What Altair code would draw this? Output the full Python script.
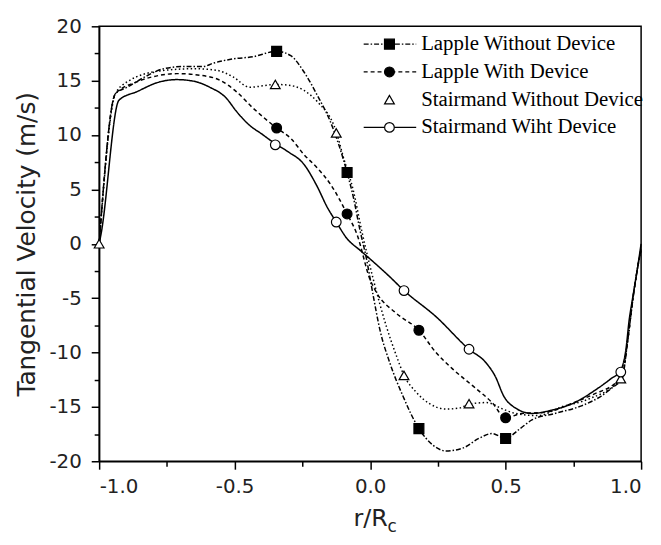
import altair as alt
import pandas as pd

SERIES = ["Lapple Without Device", "Lapple With Device",
          "Stairmand Without Device", "Stairmand Wiht Device"]

# ---- curves (r/Rc, tangential velocity m/s) ----
lw_r = [-1.0, -0.94, -0.896, -0.835, -0.762, -0.689, -0.616, -0.58, -0.506, -0.433,
        -0.345, -0.293, -0.244, -0.196, -0.147, -0.085, -0.062, -0.037, -0.015, 0.012,
        0.036, 0.072, 0.121, 0.18, 0.231, 0.28, 0.341, 0.401, 0.45, 0.5,
        0.548, 0.597, 0.682, 0.78, 0.853, 0.895, 0.93, 0.95, 0.97, 0.985, 1.0]
lw_v = [0.0, 13.8, 14.4, 15.3, 16.1, 16.3, 16.3, 16.6, 17.0, 17.2,
        17.7, 17.3, 15.8, 13.7, 11.25, 6.55, 4.3, 1.2, -1.2, -4.85,
        -7.9, -10.9, -14.0, -17.0, -18.5, -19.05, -18.8, -17.9, -17.45, -17.9,
        -17.1, -16.2, -15.6, -14.9, -14.0, -13.2, -12.4, -9.0, -5.0, -2.5, -0.5]

ld_r = [-1.0, -0.94, -0.86, -0.775, -0.714, -0.628, -0.555, -0.494, -0.433, -0.345,
        -0.293, -0.244, -0.196, -0.147, -0.085, -0.049, 0.0, 0.024, 0.097, 0.18,
        0.243, 0.304, 0.39, 0.45, 0.5, 0.56, 0.645, 0.743, 0.828, 0.901,
        0.93, 0.95, 0.97, 0.985, 1.0]
ld_v = [0.0, 13.8, 14.9, 15.5, 15.65, 15.5, 15.05, 14.0, 12.5, 10.65,
        9.7, 8.2, 7.0, 5.5, 2.75, 0.9, -3.3, -4.5, -6.4, -7.95,
        -10.0, -11.5, -13.3, -14.6, -16.0, -15.6, -15.5, -14.7, -13.8, -12.9,
        -12.2, -9.0, -5.0, -2.5, -0.5]

sw_r = [-1.0, -0.94, -0.896, -0.775, -0.653, -0.567, -0.506, -0.445, -0.35, -0.305,
        -0.244, -0.196, -0.125, -0.098, -0.062, -0.031, 0.012, 0.06, 0.097, 0.125,
        0.17, 0.219, 0.28, 0.33, 0.365, 0.43, 0.49, 0.536, 0.621, 0.706,
        0.804, 0.925, 0.95, 0.97, 0.985, 1.0]
sw_v = [0.0, 13.8, 14.9, 15.9, 16.1, 15.96, 15.35, 14.4, 14.65, 14.6,
        14.1, 13.1, 10.3, 7.9, 4.9, 1.2, -3.3, -7.6, -10.3, -12.1,
        -13.65, -14.7, -15.2, -15.1, -14.75, -14.6, -15.2, -15.6, -15.8, -15.0,
        -14.3, -12.4, -9.0, -5.0, -2.5, -0.5]

sd_r = [-1.0, -0.993, -0.927, -0.86, -0.775, -0.714, -0.653, -0.592, -0.531, -0.494,
        -0.445, -0.40, -0.35, -0.305, -0.244, -0.196, -0.159, -0.125, -0.086, -0.037,
        0.0, 0.071, 0.125, 0.243, 0.365, 0.426, 0.462, 0.493, 0.536, 0.597,
        0.67, 0.755, 0.828, 0.889, 0.923, 0.944, 0.956, 0.968, 0.985, 1.0]
sd_v = [0.0, 0.9, 13.2, 14.0, 14.9, 15.1, 14.96, 14.4, 13.4, 12.2,
        10.9, 10.1, 9.2, 8.5, 7.3, 5.3, 3.4, 2.0, 0.5, -0.6,
        -1.4, -3.0, -4.3, -6.7, -9.7, -10.9, -12.2, -14.0, -15.1, -15.6,
        -15.3, -14.6, -13.5, -12.4, -11.7, -9.7, -7.0, -5.1, -2.5, 0.0]

# ---- marker positions ----
lapple_mr = [-0.345, -0.085, 0.18, 0.5]
lw_mv = [17.7, 6.55, -17.0, -17.9]
ld_mv = [10.65, 2.75, -7.95, -16.0]
sw_mr = [-1.0, -0.35, -0.125, 0.125, 0.365, 0.925]
sw_mv = [0.0, 14.65, 10.2, -12.1, -14.7, -12.4]
sd_mr = [-0.35, -0.125, 0.125, 0.365, 0.925]
sd_mv = [9.1, 2.0, -4.3, -9.7, -11.8]

X_MAJOR = [-1.0, -0.5, 0.0, 0.5, 1.0]
X_MINOR = [-0.75, -0.25, 0.25, 0.75]
Y_MAJOR = [-20, -15, -10, -5, 0, 5, 10, 15, 20]
Y_MINOR = [-17.5, -12.5, -7.5, -2.5, 2.5, 7.5, 12.5, 17.5]

curve_rows = []
for name, rs, vs in zip(SERIES, [lw_r, ld_r, sw_r, sd_r], [lw_v, ld_v, sw_v, sd_v]):
    for i, (r, v) in enumerate(zip(rs, vs)):
        curve_rows.append({"series": name, "i": i, "r": r, "v": v})
curves = pd.DataFrame(curve_rows)

mark_rows = []
for name, rs, vs in zip(SERIES, [lapple_mr, lapple_mr, sw_mr, sd_mr], [lw_mv, ld_mv, sw_mv, sd_mv]):
    for r, v in zip(rs, vs):
        mark_rows.append({"series": name, "r": r, "v": v})
markers = pd.DataFrame(mark_rows)

legend_df = pd.DataFrame({"series": SERIES, "row": [0, 1, 2, 3],
                          "has_line": [True, True, False, True]})
sub_df = pd.DataFrame({"t": ["c"]})

dash_scale = alt.Scale(domain=SERIES, range=[[5, 2, 1.5, 2], [4, 3], [1.5, 2.5], [1, 0]])
shape_scale = alt.Scale(domain=SERIES, range=["square", "circle", "triangle-up", "circle"])
fill_scale = alt.Scale(domain=SERIES, range=["black", "black", "white", "white"])
size_scale = alt.Scale(domain=SERIES, range=[100, 95, 190, 105])

xs = alt.Scale(domain=[-1, 1], nice=False, zero=False)
ys = alt.Scale(domain=[-20, 20], nice=False, zero=False)

x_lab = "datum.value < 0 ? '-' + format(-datum.value, '.1f') : format(datum.value, '.1f')"
y_lab = "datum.value < 0 ? '-' + format(-datum.value, 'd') : format(datum.value, 'd')"

x_major = alt.Axis(values=X_MAJOR, labelExpr=x_lab, tickSize=8, labelPadding=8,
                   title="r/R", titlePadding=10, titleFontSize=24, orient="bottom")
y_major = alt.Axis(values=Y_MAJOR, labelExpr=y_lab, tickSize=8, labelPadding=10,
                   title="Tangential Velocity (m/s)", titlePadding=10, orient="left")
x_minor = alt.Axis(values=X_MINOR, labels=False, ticks=True, tickSize=5, domain=False,
                   title=None, orient="bottom")
y_minor = alt.Axis(values=Y_MINOR, labels=False, ticks=True, tickSize=5, domain=False,
                   title=None, orient="left")

lines = alt.Chart(curves).mark_line(color="black", strokeWidth=1.5, interpolate="monotone").encode(
    x=alt.X("r:Q", scale=xs, axis=x_major),
    y=alt.Y("v:Q", scale=ys, axis=y_major),
    strokeDash=alt.StrokeDash("series:N", scale=dash_scale, legend=None),
    detail="series:N",
    order="i:Q",
)

minor = alt.Chart(markers).mark_point(opacity=0).encode(
    x=alt.X("r:Q", scale=xs, axis=x_minor),
    y=alt.Y("v:Q", scale=ys, axis=y_minor),
)

points = alt.Chart(markers).mark_point(filled=True, stroke="black", strokeWidth=1.2, opacity=1).encode(
    x=alt.X("r:Q", scale=xs, axis=None),
    y=alt.Y("v:Q", scale=ys, axis=None),
    shape=alt.Shape("series:N", scale=shape_scale, legend=None),
    fill=alt.Fill("series:N", scale=fill_scale, legend=None),
    size=alt.Size("series:N", scale=size_scale, legend=None),
)

main = alt.layer(lines, minor, points).resolve_axis(x="independent", y="independent")

ly = alt.Y("row:Q", scale=alt.Scale(domain=[0, 3], range=[18, 102]), axis=None)

leg_rules = alt.Chart(legend_df).transform_filter("datum.has_line").mark_rule(
    color="black", strokeWidth=1.3).encode(
    x=alt.value(267), x2=alt.value(320), y=ly,
    strokeDash=alt.StrokeDash("series:N", scale=dash_scale, legend=None),
)
leg_pts = alt.Chart(legend_df).mark_point(filled=True, stroke="black", strokeWidth=1.2, opacity=1).encode(
    x=alt.value(293), y=ly,
    shape=alt.Shape("series:N", scale=shape_scale, legend=None),
    fill=alt.Fill("series:N", scale=fill_scale, legend=None),
    size=alt.Size("series:N", scale=size_scale, legend=None),
)
leg_text = alt.Chart(legend_df).mark_text(
    align="left", baseline="middle", font="Liberation Serif", fontSize=21, color="black").encode(
    x=alt.value(325), y=ly, text="series:N",
)
sub_text = alt.Chart(sub_df).mark_text(
    align="left", baseline="top", font="DejaVu Sans", fontSize=17, color="#222").encode(
    x=alt.value(291), y=alt.value(497), text="t:N",
)
legend = alt.layer(leg_rules, leg_pts, leg_text, sub_text)

chart = alt.layer(main, legend).resolve_scale(y="independent").properties(
    width=547, height=439,
    autosize=alt.AutoSizeParams(type="none"),
    padding={"left": 92, "top": 16, "right": 12, "bottom": 80},
).configure_view(stroke="black", strokeWidth=1.5).configure_axis(
    grid=False, domainColor="black", domainWidth=1.5, tickColor="black", tickWidth=1.5,
    labelFont="DejaVu Sans", labelFontSize=20, labelColor="#222",
    titleFont="DejaVu Sans", titleFontSize=25, titleFontWeight="normal", titleColor="#222",
)

chart.save("out.html", embed_options={"renderer": "svg", "actions": False})
